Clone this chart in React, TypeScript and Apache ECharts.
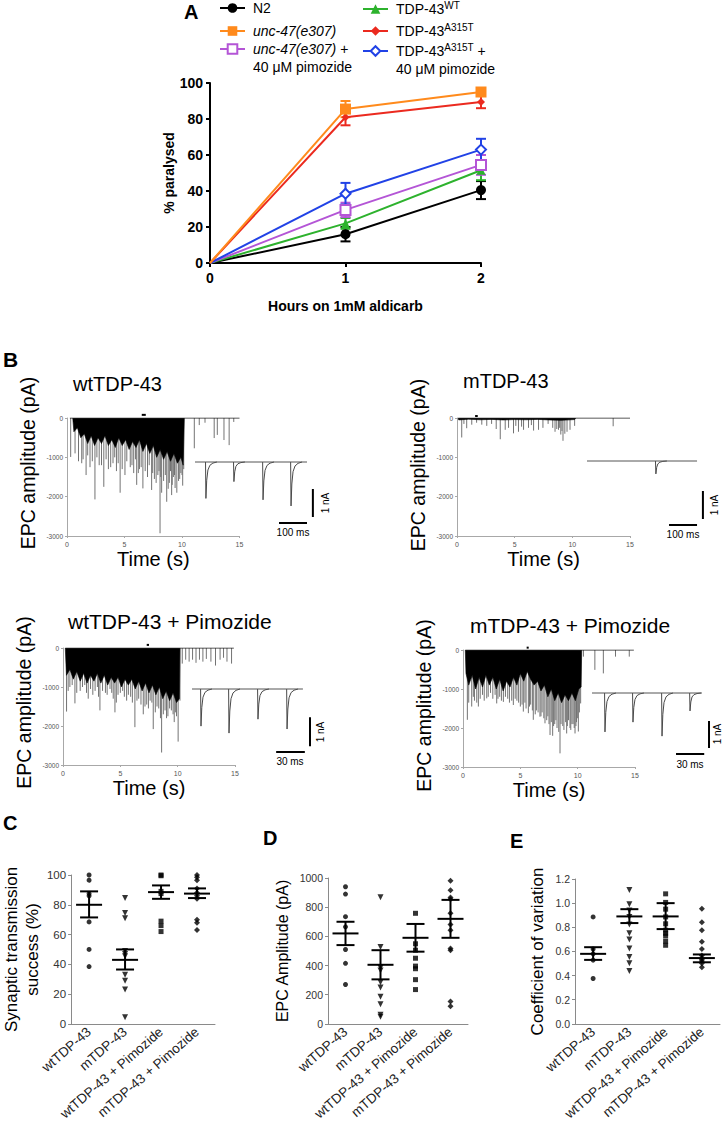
import React, { useEffect, useRef } from "react";
import * as echarts from "echarts";

const FONT = "'Liberation Sans', Arial, Helvetica, sans-serif";

// ================= Panel A : % paralysed on 1 mM aldicarb =================
const hoursA = [0, 1, 2];
const aYTicks = [0, 20, 40, 60, 80, 100];
const n2Pct = [0, 16, 40.5];
const n2Sem = [0, 4, 5];
const unc47Pct = [0, 85.5, 95];
const unc47Sem = [0, 4.5, 2];
const unc47PimPct = [0, 29.5, 54.5];
const unc47PimSem = [0, 4, 5.5];
const tdpWtPct = [0, 22, 51.5];
const tdpWtSem = [0, 3, 5.5];
const tdpMutPct = [0, 81, 89.5];
const tdpMutSem = [0, 4.5, 3.5];
const tdpMutPimPct = [0, 38.5, 63];
const tdpMutPimSem = [0, 6, 6];

// ================= Panel B : EPC traces (time s, amplitude pA) =================
const bTimeTicks = [0, 5, 10, 15];
const bAmpTicks = [-3000, -2000, -1000, 0];

// wtTDP-43
const b1Dense = [[0.5,0],[0.6,-350],[0.9,-250],[1.2,-500],[1.5,-400],[1.8,-650],[2.1,-450],[2.4,-700],[2.7,-500],[3.0,-650],[3.3,-450],[3.6,-700],[3.9,-550],[4.2,-750],[4.5,-500],[4.8,-700],[5.1,-550],[5.4,-800],[5.7,-600],[6.0,-750],[6.3,-550],[6.6,-850],[6.9,-650],[7.2,-900],[7.5,-700],[7.8,-1000],[8.1,-800],[8.4,-1050],[8.7,-850],[9.0,-1100],[9.3,-900],[9.6,-1150],[9.9,-1000],[10.1,-1200],[10.2,0]];
const b1Spikes = [[0.32,-990],[0.7,-900],[1.0,-1100],[1.28,-1150],[1.4,-1050],[1.66,-1450],[1.8,-950],[2.0,-1250],[2.2,-1100],[2.43,-2070],[2.6,-1000],[2.8,-1200],[3.0,-1200],[3.2,-1750],[3.4,-1050],[3.6,-1300],[3.8,-1250],[4.0,-1150],[4.15,-1000],[4.3,-1350],[4.45,-1150],[4.62,-1900],[4.8,-1300],[5.04,-1450],[5.2,-1100],[5.5,-1250],[5.65,-1200],[5.8,-1400],[5.95,-1050],[6.06,-1700],[6.2,-1400],[6.3,-1300],[6.45,-1250],[6.6,-1790],[6.8,-1350],[7.0,-1500],[7.15,-1200],[7.36,-1830],[7.45,-1400],[7.6,-1550],[7.75,-1650],[7.9,-1450],[8.0,-1350],[8.09,-2930],[8.15,-1500],[8.23,-1900],[8.4,-1600],[8.55,-1450],[8.67,-2130],[8.8,-1800],[8.9,-1650],[9.0,-1350],[9.1,-1960],[9.15,-1700],[9.25,-1500],[9.35,-1450],[9.4,-1780],[9.55,-1900],[9.7,-1600],[9.8,-1550],[9.9,-1400],[10.0,-1450],[10.06,-1720],[10.15,-1300],[11.07,-770],[11.5,-180],[12.0,-120],[12.8,-510],[13.07,-430],[13.65,-560],[14.1,-690],[14.5,-100]];
const b1Baseline = [[0.25,0],[15,0]];
const b1Mark = [[6.5,80],[6.85,80]];
const b1InsetBase = [[0,0],[400,0]];
const b1InsetEpc = [[39,1.3],[139,0.7],[243,1.35],[343,1.57]];
const b1BarNa = [[421,-0.96],[421,-1.96]];
const b1BarMs = [[300,-2.18],[400,-2.18]];

// mTDP-43
const b2Dense = [[0.1,0],[0.15,-50],[1,-30],[2,-45],[3,-35],[4,-50],[5,-40],[6,-45],[7,-35],[8,-50],[9,-60],[10.2,-40],[10.3,0]];
const b2Spikes = [[0.41,-495],[0.6,-150],[0.84,-260],[1.28,-170],[1.7,-120],[2.15,-170],[2.58,-200],[3.0,-150],[3.4,-280],[3.75,-540],[4.18,-300],[4.47,-250],[4.9,-390],[5.1,-200],[5.33,-350],[5.6,-220],[5.77,-300],[6.2,-250],[6.45,-180],[6.64,-320],[7.07,-300],[7.45,-250],[7.9,-150],[8.3,-250],[8.5,-350],[8.65,-280],[8.8,-300],[8.9,-250],[9.0,-420],[9.1,-330],[9.19,-580],[9.35,-400],[9.54,-350],[9.8,-300],[10.2,-200],[13.54,-210]];
const b2Baseline = [[0.1,0],[15,0]];
const b2Mark = [[1.57,50],[1.8,50]];
const b2InsetBase = [[0,0],[393,0]];
const b2InsetEpc = [[246,0.46]];
const b2BarNa = [[414,-1.07],[414,-2.07]];
const b2BarMs = [[293,-2.29],[393,-2.29]];

// wtTDP-43 + Pimozide
const b3Dense = [[0.2,0],[0.3,-700],[0.6,-550],[0.9,-800],[1.2,-600],[1.5,-850],[1.8,-650],[2.1,-900],[2.4,-700],[2.7,-850],[3.0,-650],[3.3,-900],[3.6,-700],[3.9,-950],[4.2,-750],[4.5,-900],[4.8,-750],[5.1,-1000],[5.4,-800],[5.7,-950],[6.0,-800],[6.3,-1050],[6.6,-850],[6.9,-1100],[7.2,-900],[7.5,-1150],[7.8,-950],[8.1,-1200],[8.4,-1000],[8.7,-1300],[9.0,-1100],[9.3,-1350],[9.6,-1150],[9.9,-1400],[10.15,-1300],[10.2,0]];
const b3Spikes = [[0.31,-1630],[0.45,-1100],[0.6,-1000],[0.8,-950],[1.04,-1420],[1.2,-1150],[1.5,-1100],[1.7,-1000],[1.9,-950],[2.05,-1150],[2.2,-1300],[2.4,-1050],[2.6,-1200],[2.8,-1100],[3.0,-1000],[3.1,-1250],[3.22,-1600],[3.45,-1100],[3.7,-1150],[3.85,-1200],[4.1,-1050],[4.25,-1150],[4.38,-1300],[4.53,-1650],[4.65,-1400],[4.8,-1200],[5.0,-1150],[5.2,-1100],[5.35,-1250],[5.55,-1350],[5.7,-1200],[5.9,-1250],[6.05,-1400],[6.27,-2030],[6.45,-1350],[6.6,-1300],[6.8,-1450],[7.0,-1700],[7.15,-1500],[7.3,-1450],[7.45,-1550],[7.6,-1350],[7.75,-1400],[7.87,-2080],[8.05,-1650],[8.2,-1500],[8.35,-1550],[8.5,-1800],[8.6,-2680],[8.75,-1700],[8.9,-1600],[9.03,-1800],[9.15,-1750],[9.3,-1550],[9.45,-1600],[9.6,-1700],[9.7,-1900],[9.8,-1650],[9.9,-1750],[10.04,-2400],[10.2,-1350],[10.4,-400],[10.7,-300],[11.0,-350],[11.3,-300],[11.6,-380],[11.9,-300],[12.2,-350],[12.5,-280],[12.9,-350],[13.3,-450],[13.7,-300],[14.0,-250],[14.3,-350],[14.7,-400]];
const b3Baseline = [[0.2,0],[14.9,0]];
const b3Mark = [[7.3,80],[7.5,80]];
const b3InsetBase = [[0,0],[116,0]];
const b3InsetEpc = [[9.4,1.28],[38.7,1.52],[69,1.04],[99.4,1.38]];
const b3BarNa = [[123.4,-0.97],[123.4,-1.97]];
const b3BarMs = [[88,-2.17],[118,-2.17]];

// mTDP-43 + Pimozide
const b4Dense = [[0.2,0],[0.26,-600],[0.5,-900],[0.8,-650],[1.1,-1000],[1.4,-700],[1.7,-950],[2.0,-650],[2.3,-900],[2.6,-700],[2.9,-1000],[3.2,-750],[3.5,-1050],[3.8,-800],[4.1,-950],[4.4,-700],[4.7,-900],[5.0,-600],[5.3,-800],[5.6,-550],[5.9,-750],[6.2,-900],[6.5,-800],[6.8,-1050],[7.1,-900],[7.4,-1200],[7.7,-1000],[8.0,-1300],[8.3,-1100],[8.6,-1350],[8.9,-1150],[9.2,-1300],[9.5,-1100],[9.8,-1300],[10.1,-1000],[10.3,-950],[10.35,0]];
const b4Spikes = [[0.38,-1790],[0.5,-1350],[0.76,-1450],[0.9,-1200],[1.0,-1300],[1.2,-1350],[1.34,-1450],[1.5,-1250],[1.7,-1150],[1.85,-1300],[2.07,-1240],[2.2,-1200],[2.4,-1100],[2.6,-1250],[2.8,-1150],[2.94,-1370],[3.05,-1250],[3.2,-1200],[3.35,-1300],[3.52,-1330],[3.7,-1200],[3.9,-1250],[4.05,-1350],[4.25,-1300],[4.39,-1410],[4.55,-1250],[4.7,-1300],[4.85,-1350],[5.0,-1450],[5.15,-1400],[5.26,-1580],[5.4,-1350],[5.5,-1500],[5.7,-1620],[5.8,-1450],[5.9,-1400],[6.05,-1550],[6.13,-1790],[6.3,-1650],[6.4,-1550],[6.55,-1600],[6.71,-1710],[6.8,-1700],[6.9,-1600],[7.05,-1750],[7.15,-1880],[7.3,-1800],[7.4,-1700],[7.5,-1900],[7.59,-2180],[7.7,-1850],[7.82,-2200],[7.9,-1950],[8.0,-1900],[8.1,-1800],[8.2,-2000],[8.35,-2100],[8.46,-2650],[8.55,-1900],[8.7,-1950],[8.8,-2050],[8.95,-1850],[9.04,-2140],[9.1,-1950],[9.2,-1800],[9.33,-2000],[9.4,-2050],[9.5,-1900],[9.6,-1900],[9.7,-2000],[9.77,-2140],[9.85,-1950],[9.9,-1850],[10.0,-1750],[10.06,-2090],[10.15,-1600],[10.26,-1370],[10.5,-170],[11.5,-510],[12.24,-600],[13.3,-170],[14.5,-170]];
const b4Baseline = [[0.2,0],[14.9,0]];
const b4Mark = [[5.55,60],[5.73,60]];
const b4InsetBase = [[0,0],[117,0]];
const b4InsetEpc = [[13.8,1.39],[43.6,1.04],[74.5,1.54],[104.3,0.64]];
const b4BarNa = [[124.5,-1.0],[124.5,-1.96]];
const b4BarMs = [[89.4,-2.18],[119.4,-2.18]];

// ================= Panels C, D, E : dot plots =================
const groupsCDE = ["wtTDP-43", "mTDP-43", "wtTDP-43 + Pimozide", "mTDP-43 + Pimozide"];

const cTicks = [0, 20, 40, 60, 80, 100];
const cWt = [100, 96.5, 87.5, 86, 68.5, 50, 38.5];
const cMut = [84.5, 74.5, 71, 49, 47, 45.5, 33, 29, 23, 4.5];
const cWtPim = [100, 99.5, 89, 87.5, 69, 66, 62];
const cMutPim = [100, 98.5, 96.5, 91, 88, 86, 84, 70, 68, 63];
const cMean = [80, 43, 88.5, 87.5];
const cLow = [71.5, 36.5, 84, 84.5];
const cHigh = [89, 50, 93, 91];

const dTicks = [0, 200, 400, 600, 800, 1000];
const dWt = [940, 890, 735, 665, 510, 415, 270];
const dMut = [868, 527, 385, 365, 285, 250, 185, 135, 62, 48];
const dWtPim = [758, 549, 505, 450, 396, 378, 303, 235];
const dMutPim = [982, 916, 866, 855, 758, 681, 642, 516, 505, 154, 121];
const dMean = [620, 405, 590, 720];
const dLow = [540, 305, 495, 590];
const dHigh = [700, 505, 685, 850];

const eTicks = [0, 0.2, 0.4, 0.6, 0.8, 1.0, 1.2];
const eWt = [0.886, 0.62, 0.58, 0.528, 0.376];
const eMut = [1.108, 0.991, 0.94, 0.886, 0.823, 0.75, 0.698, 0.625, 0.554, 0.502, 0.437];
const eWtPim = [1.077, 1.006, 0.95, 0.886, 0.829, 0.776, 0.75, 0.729, 0.685, 0.651];
const eMutPim = [0.954, 0.842, 0.776, 0.68, 0.62, 0.567, 0.536, 0.52, 0.502, 0.468];
const eMean = [0.58, 0.89, 0.89, 0.545];
const eLow = [0.53, 0.835, 0.785, 0.51];
const eHigh = [0.635, 0.95, 1.0, 0.575];

// ---------------- rendering helpers ----------------
const errBarRender = (color: string) => (params: any, api: any) => {
  const x = api.value(0), y = api.value(1), e = api.value(2);
  const top = api.coord([x, y + e]);
  const bot = api.coord([x, y - e]);
  const st = { stroke: color, lineWidth: 2 };
  return {
    type: "group",
    children: [
      { type: "line", shape: { x1: top[0], y1: top[1], x2: bot[0], y2: bot[1] }, style: st },
      { type: "line", shape: { x1: top[0] - 5, y1: top[1], x2: top[0] + 5, y2: top[1] }, style: st },
      { type: "line", shape: { x1: bot[0] - 5, y1: bot[1], x2: bot[0] + 5, y2: bot[1] }, style: st },
    ],
  };
};

const spikeRender = (params: any, api: any) => {
  const t = api.value(0), a = api.value(1);
  const p0 = api.coord([t, 0]);
  const p1 = api.coord([t, a]);
  return { type: "line", shape: { x1: p0[0], y1: p0[1], x2: p1[0], y2: p1[1] }, style: { stroke: "#737373", lineWidth: 1 } };
};

const epcRender = (params: any, api: any) => {
  const t = api.value(0), d = api.value(1);
  const b = api.coord([t, 0]);
  const p = api.coord([t, -d]);
  const h = p[1] - b[1];
  const pts = [
    [b[0] - 0.4, b[1]], [b[0], p[1]], [b[0] + 0.8, b[1] + h * 0.5], [b[0] + 2, b[1] + h * 0.22],
    [b[0] + 4, b[1] + h * 0.09], [b[0] + 7, b[1] + h * 0.03], [b[0] + 11, b[1]],
  ];
  return { type: "polyline", shape: { points: pts }, style: { stroke: "#4a4a4a", fill: "none", lineWidth: 1 } };
};

const meanSemRender = (params: any, api: any) => {
  const i = api.value(0);
  const pm = api.coord([i, api.value(1)]);
  const pl = api.coord([i, api.value(2)]);
  const ph = api.coord([i, api.value(3)]);
  const st = { stroke: "#000", lineWidth: 2 };
  return {
    type: "group",
    children: [
      { type: "line", shape: { x1: pm[0] - 13, y1: pm[1], x2: pm[0] + 13, y2: pm[1] }, style: st },
      { type: "line", shape: { x1: pl[0], y1: pl[1], x2: ph[0], y2: ph[1] }, style: st },
      { type: "line", shape: { x1: pl[0] - 9, y1: pl[1], x2: pl[0] + 9, y2: pl[1] }, style: st },
      { type: "line", shape: { x1: ph[0] - 9, y1: ph[1], x2: ph[0] + 9, y2: ph[1] }, style: st },
    ],
  };
};

function tracePanel(g: number, dense: number[][], spikes: number[][], base: number[][], mark: number[][],
  insetBase: number[][], insetEpc: number[][], barNa: number[][], barMs: number[][]) {
  const gi = g + 1;
  return [
    { type: "custom", xAxisIndex: g, yAxisIndex: g, data: spikes, renderItem: spikeRender, encode: { x: 0, y: 1 }, silent: true },
    { type: "line", xAxisIndex: g, yAxisIndex: g, data: dense, symbol: "none", silent: true,
      lineStyle: { width: 0.6, color: "#000" }, areaStyle: { color: "#000", opacity: 1, origin: "end" } },
    { type: "line", xAxisIndex: g, yAxisIndex: g, data: base, symbol: "none", silent: true, lineStyle: { width: 1, color: "#222" } },
    { type: "line", xAxisIndex: g, yAxisIndex: g, data: mark, symbol: "none", silent: true, clip: false, lineStyle: { width: 2, color: "#000" } },
    { type: "line", xAxisIndex: gi, yAxisIndex: gi, data: insetBase, symbol: "none", silent: true, lineStyle: { width: 1, color: "#555" } },
    { type: "custom", xAxisIndex: gi, yAxisIndex: gi, data: insetEpc, renderItem: epcRender, encode: { x: 0, y: 1 }, silent: true },
    { type: "line", xAxisIndex: gi, yAxisIndex: gi, data: barNa, symbol: "none", silent: true, lineStyle: { width: 2, color: "#000" } },
    { type: "line", xAxisIndex: gi, yAxisIndex: gi, data: barMs, symbol: "none", silent: true, lineStyle: { width: 2, color: "#000" } },
  ];
}

function dotPanel(g: number, groups: number[][], mean: number[], low: number[], high: number[]) {
  const symbols = ["circle", "triangle", "rect", "diamond"];
  const rot = [0, 180, 0, 0];
  const sizes = [5, 6, 5, 6];
  const s: any[] = groups.map((vals, ci) => ({
    type: "scatter", xAxisIndex: g, yAxisIndex: g, data: vals.map((v) => [ci, v]),
    symbol: symbols[ci], symbolRotate: rot[ci], symbolSize: sizes[ci], itemStyle: { color: "#000" }, silent: true,
  }));
  s.push({ type: "custom", xAxisIndex: g, yAxisIndex: g, data: mean.map((m, i) => [i, m, low[i], high[i]]),
    renderItem: meanSemRender, encode: { x: 0, y: 1 }, silent: true, z: 5 });
  return s;
}

function traceAxes(g: number, nameShift: number) {
  const x = {
    gridIndex: g, type: "value", min: bTimeTicks[0], max: bTimeTicks[bTimeTicks.length - 1], interval: bTimeTicks[1] - bTimeTicks[0],
    axisLine: { show: true, onZero: false, lineStyle: { color: "#a8a8a8", width: 1 } },
    axisTick: { show: true, length: 2, lineStyle: { color: "#a8a8a8" } },
    axisLabel: { fontSize: 7, color: "#555", margin: 5, fontFamily: FONT },
    splitLine: { show: false },
    name: "Time (s)", nameLocation: "middle", nameGap: 13,
    nameTextStyle: { fontSize: 20, color: "#000", fontFamily: FONT },
  };
  const y = {
    gridIndex: g, type: "value", min: bAmpTicks[0], max: bAmpTicks[bAmpTicks.length - 1], interval: bAmpTicks[1] - bAmpTicks[0],
    axisLine: { show: true, onZero: false, lineStyle: { color: "#a8a8a8", width: 1 } },
    axisTick: { show: true, length: 2, lineStyle: { color: "#a8a8a8" } },
    axisLabel: { fontSize: 6.5, color: "#555", margin: 4, fontFamily: FONT, formatter: (v: number) => String(v) },
    splitLine: { show: false },
    name: "EPC amplitude (pA)", nameLocation: "middle", nameGap: 29, nameRotate: 90,
    nameTextStyle: { fontSize: 19.5, color: "#000", fontFamily: FONT, padding: [0, 0, 0, nameShift] },
  };
  return { x, y };
}

function insetAxes(g: number, xMax: number) {
  return {
    x: { gridIndex: g, type: "value", min: 0, max: xMax, show: false },
    y: { gridIndex: g, type: "value", min: -2.4, max: 0.3, show: false },
  };
}

function dotAxes(g: number, ticks: number[], name: string, nameSize: number, nameGap: number, labelSize: number, digits: number) {
  const x = {
    gridIndex: g, type: "category", data: groupsCDE, boundaryGap: true,
    axisLine: { show: true, lineStyle: { color: "#8a8a8a", width: 1 } },
    axisTick: { show: false },
    axisLabel: { interval: 0, rotate: 41, fontSize: 13.5, color: "#222", margin: 6, fontFamily: FONT },
  };
  const y = {
    gridIndex: g, type: "value", min: ticks[0], max: ticks[ticks.length - 1], interval: ticks[1] - ticks[0],
    axisLine: { show: true, lineStyle: { color: "#8a8a8a", width: 1 } },
    axisTick: { show: true, length: 3, lineStyle: { color: "#8a8a8a" } },
    axisLabel: { fontSize: labelSize, color: "#333", margin: 5, fontFamily: FONT,
      formatter: (v: number) => v.toFixed(digits) },
    splitLine: { show: false },
    name, nameLocation: "middle", nameRotate: 90, nameGap,
    nameTextStyle: { fontSize: nameSize, lineHeight: 21, color: "#000", fontFamily: FONT },
  };
  return { x, y };
}

const aGroups = [
  { name: "N2", color: "#000000", symbol: "circle", size: 10, vals: n2Pct, sem: n2Sem },
  { name: "unc-47(e307)", color: "#FF8A1C", symbol: "rect", size: 11, vals: unc47Pct, sem: unc47Sem },
  { name: "unc-47(e307) + 40 μM pimozide", color: "#B455D6", symbol: "emptyRect", size: 10, vals: unc47PimPct, sem: unc47PimSem },
  { name: "TDP-43 WT", color: "#2DB22D", symbol: "triangle", size: 9, vals: tdpWtPct, sem: tdpWtSem },
  { name: "TDP-43 A315T", color: "#EB2A1F", symbol: "diamond", size: 8, vals: tdpMutPct, sem: tdpMutSem },
  { name: "TDP-43 A315T + 40 μM pimozide", color: "#2142E6", symbol: "emptyDiamond", size: 10, vals: tdpMutPimPct, sem: tdpMutPimSem },
];

const legendLabels: Record<string, string> = {
  "N2": "{n|N2}",
  "unc-47(e307)": "{i|unc-47(e307)}",
  "unc-47(e307) + 40 μM pimozide": "{i|unc-47(e307)}{n| +}\n{n|40 μM pimozide}",
  "TDP-43 WT": "{n|TDP-43}{s|WT}",
  "TDP-43 A315T": "{n|TDP-43}{s|A315T}",
  "TDP-43 A315T + 40 μM pimozide": "{n|TDP-43}{s|A315T}{n| +}\n{n|40 μM pimozide}",
};

function buildOption() {
  const aSeries: any[] = [];
  const order = [0, 3, 2, 5, 4, 1];
  order.forEach((k) => {
    const gdef = aGroups[k];
    aSeries.push({
      type: "line", name: gdef.name, xAxisIndex: 0, yAxisIndex: 0,
      data: hoursA.map((h, i) => (i === 0 ? { value: [h, gdef.vals[i]], symbol: "none" } : [h, gdef.vals[i]])),
      symbol: gdef.symbol, symbolSize: gdef.size,
      lineStyle: { width: 2, color: gdef.color }, itemStyle: { color: gdef.color, borderColor: gdef.color, borderWidth: gdef.symbol.startsWith("empty") ? 1.6 : 0 },
      z: 3,
    });
    aSeries.push({
      type: "custom", xAxisIndex: 0, yAxisIndex: 0,
      data: hoursA.map((h, i) => [h, gdef.vals[i], gdef.sem[i]]).filter((d) => d[2] > 0),
      renderItem: errBarRender(gdef.color), encode: { x: 0, y: 1 }, silent: true, z: 2,
    });
  });

  const t1 = traceAxes(1, 28), i1 = insetAxes(2, 440);
  const t2 = traceAxes(3, 24), i2 = insetAxes(4, 440);
  const t3 = traceAxes(5, 8), i3 = insetAxes(6, 128);
  const t4 = traceAxes(7, 6), i4 = insetAxes(8, 128);
  const c = dotAxes(9, cTicks, "Synaptic transmission\nsuccess (%)", 17, 26, 11.5, 0);
  const d = dotAxes(10, dTicks, "EPC Amplitude (pA)", 16, 35, 10.5, 0);
  const e = dotAxes(11, eTicks, "Coefficient of variation", 17, 27, 10.5, 1);

  const aAxisLine = { show: true, lineStyle: { color: "#000", width: 2 } };
  const aTick = { show: true, length: 4, lineStyle: { color: "#000", width: 2 } };
  const aLabel = { fontSize: 14, fontWeight: "bold", color: "#000", fontFamily: FONT };

  const legendCommon = {
    orient: "vertical", padding: 0, itemWidth: 25, itemHeight: 12, itemGap: 9, selectedMode: false,
    formatter: (name: string) => legendLabels[name],
    textStyle: {
      fontSize: 14, color: "#000", fontFamily: FONT, padding: [0, 0, 0, 3],
      rich: {
        n: { fontSize: 14, fontFamily: FONT, color: "#000", lineHeight: 18 },
        i: { fontSize: 14, fontFamily: FONT, color: "#000", fontStyle: "italic", lineHeight: 18 },
        s: { fontSize: 10, fontFamily: FONT, color: "#000", verticalAlign: "top", lineHeight: 10 },
      },
    },
  };

  const titleStyle = (size: number, bold: boolean) => ({ fontSize: size, fontWeight: bold ? "bold" : "normal", color: "#000", fontFamily: FONT });
  const txt = (text: string, x: number, y: number, rot = 0) => ({
    type: "text", x, y, rotation: rot,
    style: { text, fontSize: 10, fontFamily: FONT, fill: "#000", align: "center", verticalAlign: "middle", textAlign: "center", textVerticalAlign: "middle" },
  });

  return {
    animation: false,
    backgroundColor: "#ffffff",
    textStyle: { fontFamily: FONT },
    title: [
      { text: "A", left: 184, top: 2, padding: 0, textStyle: titleStyle(20, true) },
      { text: "B", left: 3, top: 349, padding: 0, textStyle: titleStyle(21, true) },
      { text: "C", left: 3, top: 813, padding: 0, textStyle: titleStyle(20, true) },
      { text: "D", left: 263, top: 828, padding: 0, textStyle: titleStyle(20, true) },
      { text: "E", left: 510, top: 831, padding: 0, textStyle: titleStyle(20, true) },
      { text: "wtTDP-43", left: 73, top: 374, padding: 0, textStyle: titleStyle(20, false) },
      { text: "mTDP-43", left: 463, top: 371, padding: 0, textStyle: titleStyle(20, false) },
      { text: "wtTDP-43 + Pimozide", left: 68, top: 611, padding: 0, textStyle: titleStyle(21, false) },
      { text: "mTDP-43 + Pimozide", left: 470, top: 615, padding: 0, textStyle: titleStyle(21, false) },
    ],
    legend: [
      { ...legendCommon, left: 219, top: 1, data: ["N2", "unc-47(e307)"] },
      { ...legendCommon, left: 219, top: 42, data: [{ name: "unc-47(e307) + 40 μM pimozide", textStyle: { padding: [18, 0, 0, 3] } }] },
      { ...legendCommon, left: 362, top: 0, itemGap: 6, data: ["TDP-43 WT", "TDP-43 A315T"] },
      { ...legendCommon, left: 362, top: 42, data: [{ name: "TDP-43 A315T + 40 μM pimozide", textStyle: { padding: [18, 0, 0, 3] } }] },
    ],
    grid: [
      { left: 210, top: 83, width: 271, height: 180 },
      { left: 67, top: 418, width: 172.5, height: 118 },
      { left: 195, top: 453.6, width: 123.2, height: 75.6 },
      { left: 457, top: 418, width: 173, height: 118 },
      { left: 587, top: 452.6, width: 123.2, height: 75.6 },
      { left: 63, top: 648, width: 172, height: 117 },
      { left: 192, top: 680.3, width: 122.4, height: 78.3 },
      { left: 463, top: 650, width: 172, height: 117 },
      { left: 592, top: 684.6, width: 120.3, height: 75.6 },
      { left: 69, top: 875, width: 146, height: 157 },
      { left: 328, top: 878, width: 140, height: 152 },
      { left: 575, top: 879, width: 145, height: 153 },
    ],
    xAxis: [
      {
        gridIndex: 0, type: "value", min: hoursA[0], max: hoursA[hoursA.length - 1], interval: 1,
        axisLine: aAxisLine, axisTick: aTick, axisLabel: { ...aLabel, margin: 8 }, splitLine: { show: false },
        name: "Hours on 1mM aldicarb", nameLocation: "middle", nameGap: 36,
        nameTextStyle: { fontSize: 14, fontWeight: "bold", color: "#000", fontFamily: FONT },
      },
      t1.x, i1.x, t2.x, i2.x, t3.x, i3.x, t4.x, i4.x, c.x, d.x, e.x,
    ],
    yAxis: [
      {
        gridIndex: 0, type: "value", min: aYTicks[0], max: aYTicks[aYTicks.length - 1], interval: aYTicks[1] - aYTicks[0],
        axisLine: aAxisLine, axisTick: aTick, axisLabel: { ...aLabel, margin: 7 }, splitLine: { show: false },
        name: "% paralysed", nameLocation: "middle", nameGap: 32, nameRotate: 90,
        nameTextStyle: { fontSize: 14, fontWeight: "bold", color: "#000", fontFamily: FONT },
      },
      t1.y, i1.y, t2.y, i2.y, t3.y, i3.y, t4.y, i4.y, c.y, d.y, e.y,
    ],
    series: [
      ...aSeries,
      ...tracePanel(1, b1Dense, b1Spikes, b1Baseline, b1Mark, b1InsetBase, b1InsetEpc, b1BarNa, b1BarMs),
      ...tracePanel(3, b2Dense, b2Spikes, b2Baseline, b2Mark, b2InsetBase, b2InsetEpc, b2BarNa, b2BarMs),
      ...tracePanel(5, b3Dense, b3Spikes, b3Baseline, b3Mark, b3InsetBase, b3InsetEpc, b3BarNa, b3BarMs),
      ...tracePanel(7, b4Dense, b4Spikes, b4Baseline, b4Mark, b4InsetBase, b4InsetEpc, b4BarNa, b4BarMs),
      ...dotPanel(9, [cWt, cMut, cWtPim, cMutPim], cMean, cLow, cHigh),
      ...dotPanel(10, [dWt, dMut, dWtPim, dMutPim], dMean, dLow, dHigh),
      ...dotPanel(11, [eWt, eMut, eWtPim, eMutPim], eMean, eLow, eHigh),
    ],
    graphic: [
      txt("100 ms", 293, 532), txt("1 nA", 325, 503, Math.PI / 2),
      txt("100 ms", 683, 534), txt("1 nA", 714, 505, Math.PI / 2),
      txt("30 ms", 290, 761), txt("1 nA", 320, 732, Math.PI / 2),
      txt("30 ms", 690, 764), txt("1 nA", 717, 734, Math.PI / 2),
    ],
  };
}

export default function App() {
  const ref = useRef<HTMLDivElement>(null);
  useEffect(() => {
    if (!ref.current) return;
    const chart = echarts.init(ref.current, undefined, { renderer: "svg" });
    chart.setOption(buildOption() as any);
    return () => chart.dispose();
  }, []);
  return <div ref={ref} style={{ position: "absolute", left: 0, top: 0, width: 723, height: 1123 }} />;
}
